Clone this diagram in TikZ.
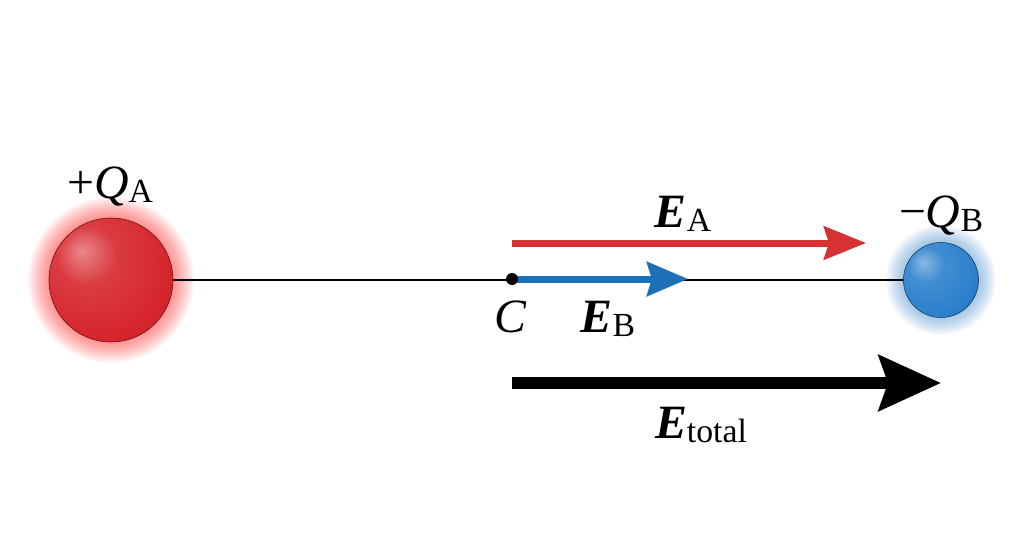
\documentclass[tikz,border=0pt]{standalone}
\usepackage{fontspec}
\setmainfont{Liberation Serif}
\usetikzlibrary{arrows.meta,positioning}

\definecolor{redcharge}{RGB}{214,38,44}
\definecolor{bluecharge}{RGB}{44,128,204}
\definecolor{redfield}{RGB}{214,50,52}
\definecolor{bluefield}{RGB}{30,112,182}
\colorlet{chargecol}{redcharge}
\pgfdeclareradialshading[chargecol]{chargeball}{\pgfpoint{-12bp}{12bp}}{%
  color(0bp)=(chargecol!55!white); color(12bp)=(chargecol!90!white);
  color(30bp)=(chargecol); color(50bp)=(chargecol!82!black);
  color(70bp)=(chargecol!65!black)}
\newcommand{\lbsub}[1]{\raisebox{-1mm}{\fontsize{24}{24}\selectfont #1}}

\begin{document}
\begin{tikzpicture}[x=0.25mm,y=-0.25mm,
  lbl/.style={font=\fontsize{34}{38}\selectfont, inner sep=0pt},
  charge/.style={circle, inner sep=0pt, shading=chargeball,
    /utils/exec={\colorlet{chargecol}{#1}}, draw=#1!45!black, line width=0.4pt},
  glowring/.style={fill=#1, opacity=0.035},
  axis/.style={line width=0.45mm},
  fielda/.style={draw=redfield, line width=1.75mm, -{Stealth[length=10.5mm,width=8.25mm,inset=1.25mm]}},
  fieldb/.style={draw=bluefield, line width=1.75mm, -{Stealth[length=10.25mm,width=8.5mm,inset=1.2mm]}},
  fieldtot/.style={draw=black, line width=3mm, -{Stealth[length=15.5mm,width=13.75mm,inset=2.25mm]}},
  dot/.style={circle, fill=black, inner sep=0pt, minimum size=3mm}]
\useasboundingbox[fill=white] (0,0) rectangle (1024,559);
\coordinate (pa) at (111,280);
\coordinate (pb) at (941,280);
\coordinate (c) at (512,279);

% glow round the charges
\foreach \d in {1,...,14}{
  \fill[glowring=red] (pa) circle[radius={(62+\d*1.5)*0.25mm}];
  \fill[glowring=bluecharge] (pb) circle[radius={(37+\d*1.3)*0.25mm}];
}

\node[charge=redcharge, minimum size=31mm] (q_a) at (pa) {};
\node[charge=bluecharge, minimum size=18.75mm] (q_b) at (pb) {};
\draw[axis] (q_a) -- (q_b);

% fields
\coordinate (ea_s) at (512,243);
\coordinate (ea_e) at (866,243);
\coordinate (eb_e) at (688,279);
\coordinate (et_s) at (512,383);
\coordinate (et_e) at (941,383);
\draw[fielda] (ea_s) -- (ea_e);
\draw[fieldb] (c) -- (eb_e);
\draw[fieldtot] (et_s) -- (et_e);
\node[dot] (c_dot) at (c) {};

% labels
\node[lbl, anchor=base] (l_qa) at (110,199) {+\textit{Q}\lbsub{A}};
\node[lbl, anchor=base] (l_qb) at (941,228) {−\textit{Q}\lbsub{B}};
\node[lbl, anchor=base] (l_ea) at (683,228) {\textbf{\textit{E}}\lbsub{A}};
\node[lbl, anchor=base] (l_c) at (511,332) {\textit{C}};
\node[lbl, anchor=base] (l_eb) at (608,332) {\textbf{\textit{E}}\lbsub{B}};
\node[lbl, anchor=base] (l_et) at (701,438) {\textbf{\textit{E}}\lbsub{total}};
\end{tikzpicture}
\end{document}
